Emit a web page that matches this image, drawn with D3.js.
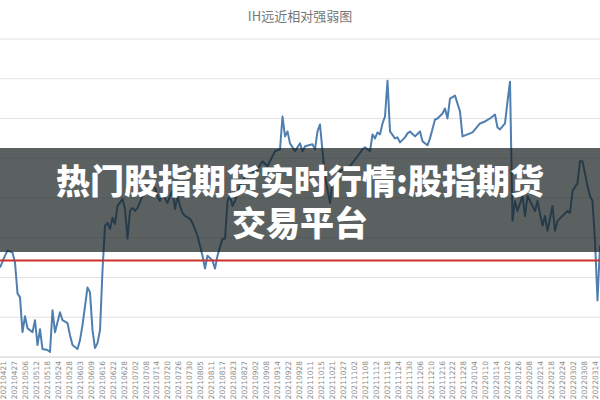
<!DOCTYPE html>
<html><head><meta charset="utf-8">
<script src="https://cdn.jsdelivr.net/npm/d3@7"></script>
<style>body{margin:0;background:#fff}svg{display:block}</style>
</head><body>
<svg id="c" width="600" height="400"></svg>
<script>
const title = "IH远近相对强弱图";
const overlayLines = ["热门股指期货实时行情:股指期货", "交易平台"];
const dateLabels = ["20210421","20210427","20210506","20210512","20210518","20210524","20210528","20210603","20210609","20210616","20210622","20210628","20210702","20210708","20210714","20210720","20210726","20210730","20210805","20210811","20210817","20210823","20210827","20210902","20210908","20210914","20210922","20210928","20211011","20211015","20211021","20211027","20211102","20211108","20211112","20211118","20211124","20211130","20211206","20211210","20211216","20211222","20211228","20220104","20220110","20220114","20220120","20220126","20220208","20220214","20220218","20220224","20220302","20220308","20220314"];
const days = [0,2,3,5,6,7,8,9,10,11,13,14,15,16,17,19,20,21,22,24,25,27,28,29,31,32,33,35,36,37,38,39,40,41,42,43,44,45,46,47,49,50,51,52,53,54,55,57,58,59,61,62,63,64,65,67,68,69,70,71,72,73,74,76,77,79,80,81,82,83,85,86,87,89,90,91,92,93,94,96,98,100,102,105,107,110,112,113,114,115,116,118,120,121,122,125,126,127,128,129,130,132,133,136,140,143,145,146,148,149,150,151,152,153,154,155,156,158,159,160,162,163,164,166,168,169,171,172,174,175,177,178,179,180,182,184,185,187,189,190,192,194,196,198,199,200,201,202,203,204,205,206,207,209,210,211,213,214,215,217,218,219,221,222,223,225,227,228,229,231,232,233,235,236,237,238,239,240];
const values = [90,102,107,105,95,64,60,25,41,29,25,37,12,28,8,7,5,47,25,45,37,34,22,12,8,17,32,70,65,27,9,14,27,87,132,135,129,140,134,152,159,149,119,147,150,147,150,162,165,167,172,170,162,157,164,155,162,167,149,162,152,145,142,139,135,122,112,102,89,102,97,89,102,119,119,157,162,152,157,172,182,189,185,197,192,207,209,242,222,227,215,207,215,207,212,214,209,227,234,207,182,155,177,187,192,202,209,211,207,224,220,226,224,235,242,278,227,220,221,216,221,225,227,222,227,217,213,220,239,240,245,250,240,260,263,247,222,224,226,229,235,237,240,244,231,229,232,235,257,277,137,157,147,162,142,162,152,147,157,132,142,127,152,127,137,142,147,145,167,175,197,197,172,162,157,117,57,112];
const gridValues = [0,40,80,120,160,200,240,280,320];
const refValue = 97;

const svg = d3.select("#c");
const x = d3.scaleLinear().domain([0,240]).range([0,600]);
const y = d3.scaleLinear().domain([0,320]).range([357,39]);

svg.append("text").attr("x",300).attr("y",21).attr("text-anchor","middle")
  .attr("font-family","Noto Sans CJK SC").attr("font-size",13).attr("fill","#777").text(title);

svg.append("g").selectAll("line").data(gridValues).join("line")
  .attr("x1",0).attr("x2",600).attr("y1",d=>y(d)).attr("y2",d=>y(d))
  .attr("stroke",d=>d===0?"#ccc":"#e2e2e2").attr("stroke-width",1);

const xl = d3.scalePoint().domain(dateLabels).range([3,595]);
svg.append("g").selectAll("text").data(dateLabels).join("text")
  .attr("transform",d=>`translate(${xl(d)+3},361) rotate(-90)`)
  .attr("text-anchor","end").attr("font-family","DejaVu Sans").attr("font-size",7.5)
  .attr("fill","#8a8a8a").text(d=>d);

const pts = days.map((d,i)=>[d,values[i]]);
svg.append("path").datum(pts)
  .attr("d", d3.line().x(d=>x(d[0])).y(d=>y(d[1])))
  .attr("fill","none").attr("stroke","#4f7fb0").attr("stroke-width",2).attr("stroke-linejoin","round");

svg.append("line").attr("x1",0).attr("x2",600).attr("y1",y(refValue)).attr("y2",y(refValue))
  .attr("stroke","#c8332f").attr("stroke-width",2);

svg.append("rect").attr("x",0).attr("y",148).attr("width",600).attr("height",104)
  .attr("fill","rgba(22,30,30,0.7)");
svg.append("g").selectAll("text").data(overlayLines).join("text")
  .attr("x",300).attr("y",(d,i)=>194+i*42).attr("text-anchor","middle")
  .attr("font-family","Noto Sans CJK SC").attr("font-weight",900).attr("font-size",34)
  .attr("fill","#fff").text(d=>d);
</script>
</body></html>
